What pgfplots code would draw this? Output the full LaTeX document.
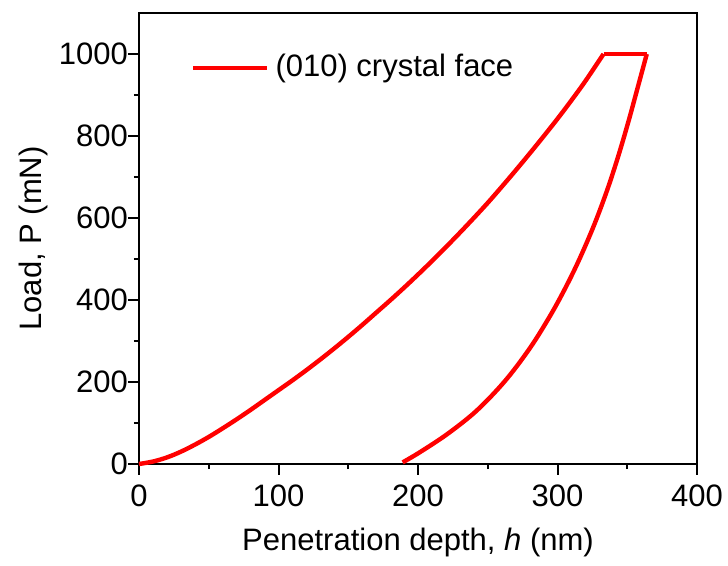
\documentclass[border=0pt]{standalone}
\usepackage{fontspec}
\setmainfont{Liberation Sans}
\usepackage{pgfplots}
\pgfplotsset{compat=1.18}

\definecolor{curvered}{RGB}{255,0,0}

\begin{document}
\fontsize{15.5}{18.5}\selectfont
\begin{tikzpicture}
\begin{axis}[
  name=ax,
  scale only axis,
  width=279pt, height=225.5pt,
  xmin=0, xmax=400, ymin=0, ymax=1100,
  xtick={0,100,...,400}, ytick={0,200,...,1000},
  minor x tick num=1, minor y tick num=1,
  axis line style={line width=1.1pt},
  every tick/.style={black, line width=1pt},
  major tick length=5.25pt, minor tick length=2.6pt,
  tick align=outside,
  xtick pos=bottom, ytick pos=left,
  /pgf/number format/assume math mode=true,
  /pgf/number format/1000 sep={},
  tick label style={font=\fontsize{15.5}{18.5}\selectfont},
  yticklabel style={xshift=5pt},
  label style={font=\fontsize{15.5}{18.5}\selectfont},
  xlabel={Penetration depth, \textit{h} (nm)},
  ylabel={Load, P (mN)},
  ylabel style={yshift=-5pt},
  legend style={draw=none, fill=none, inner sep=0pt,
    at={(0.0927,0.8787)}, anchor=west,
    nodes={inner sep=0pt, anchor=west},
    font=\fontsize{15.5}{18.5}\selectfont},
  legend image code/.code={\draw[#1] (0pt,0pt) -- (37pt,0pt);\path (40pt,0pt);},
  clip=false,
]
% loading branch
\addplot[curvered, line width=2.2pt, line join=round, smooth, tension=0.55] coordinates {
  (0,0) (10,6) (20,16) (30,30) (40,47) (50,66) (60,87) (70,109) (80,132)
  (90,156) (100,180) (110,204) (120,229) (130,255) (140,282) (150,310)
  (160,339) (170,369) (180,399) (190,430) (200,462) (210,495) (220,529)
  (230,564) (240,600) (250,637) (260,676) (270,716) (280,757) (290,799)
  (300,842) (310,887) (320,934) (333,1000)
};
\addlegendentry{(010) crystal face}
% hold at peak load
\addplot[curvered, line width=2.2pt, line join=round, forget plot] coordinates {
  (333,1000) (364,1000)
};
% unloading branch
\addplot[curvered, line width=2.2pt, line join=round, smooth, tension=0.55, forget plot] coordinates {
  (364,1000) (357,912) (350.5,831) (343.3,748) (335.5,667) (326.5,585)
  (316.3,504) (306.8,437) (295.5,366) (280.5,284) (262.5,203) (242,130)
  (221,73) (201,28) (189,4)
};
\end{axis}
\pgfresetboundingbox
\useasboundingbox ([xshift=-69.5pt,yshift=-51pt]ax.south west)
  rectangle ([xshift=15.5pt,yshift=6.5pt]ax.north east);
\end{tikzpicture}
\end{document}
